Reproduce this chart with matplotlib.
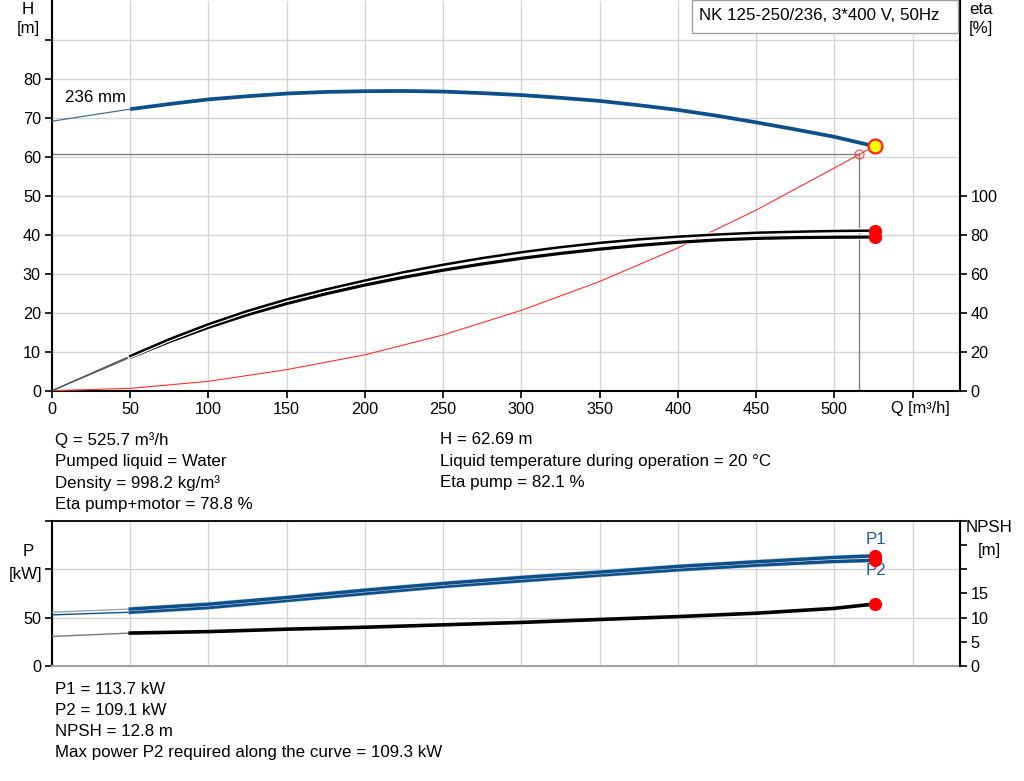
import matplotlib
matplotlib.use("Agg")
import matplotlib.pyplot as plt
import matplotlib.patheffects as pe
from matplotlib.patches import Rectangle

plt.rcParams['font.family'] = ['Liberation Sans', 'DejaVu Sans']

# ---------------- data ----------------
Q = [0, 50, 75, 100, 125, 150, 175, 200, 225, 250, 275, 300, 325, 350, 375,
     400, 425, 450, 475, 500, 525.7]
H = [69.1, 72.2, 73.5, 74.7, 75.5, 76.2, 76.6, 76.8, 76.85, 76.7, 76.3, 75.8,
     75.1, 74.3, 73.2, 72.0, 70.5, 68.8, 67.0, 65.1, 62.69]
ETA_PUMP = [0, 17.8, 26.4, 34.1, 40.9, 46.8, 51.9, 56.5, 60.8, 64.6, 68.0, 71.0,
            73.6, 75.8, 77.6, 79.0, 80.1, 81.0, 81.5, 81.9, 82.1]
ETA_TOTAL = [0, 17.1, 25.2, 32.5, 39.0, 44.7, 49.7, 54.2, 58.2, 61.8, 65.0, 67.9,
             70.4, 72.6, 74.5, 76.1, 77.3, 78.1, 78.5, 78.7, 78.8]
Q_SYS = [0, 50, 100, 150, 200, 250, 300, 350, 400, 450, 500, 516, 525.7]
H_SYS = [0, 0.6, 2.4, 5.4, 9.2, 14.3, 20.6, 28.0, 36.6, 46.3, 57.1, 60.6, 62.69]
Q_P = [0, 50, 100, 150, 200, 250, 300, 350, 400, 450, 500, 525.7]
P1 = [55.5, 58.8, 63.8, 70.7, 78.3, 85.2, 91.4, 96.9, 102.8, 107.6, 112.1, 113.7]
P2 = [52.8, 55.5, 60.3, 67.6, 74.8, 82.1, 87.9, 93.8, 99.3, 104.1, 107.9, 109.1]
NPSH = [6.1, 6.8, 7.1, 7.6, 8.0, 8.5, 9.0, 9.6, 10.2, 10.9, 11.9, 12.8]

DUTY_Q, DUTY_H = 525.7, 62.69
SYS_Q, SYS_H = 516, 60.6

X_TICKS = [0, 50, 100, 150, 200, 250, 300, 350, 400, 450, 500, 550]
H_TICKS = [0, 10, 20, 30, 40, 50, 60, 70, 80, 90]
ETA_TICKS = [0, 20, 40, 60, 80, 100]
P_TICKS = [0, 50, 100, 150]
NPSH_TICKS = [0, 5, 10, 15, 20, 25, 30]

TITLE = "NK 125-250/236, 3*400 V, 50Hz"
INFO_LEFT = ["Q = 525.7 m³/h", "Pumped liquid = Water", "Density = 998.2 kg/m³",
             "Eta pump+motor = 78.8 %"]
INFO_RIGHT = ["H = 62.69 m", "Liquid temperature during operation = 20 °C",
              "Eta pump = 82.1 %"]
INFO_BOTTOM = ["P1 = 113.7 kW", "P2 = 109.1 kW", "NPSH = 12.8 m",
               "Max power P2 required along the curve = 109.3 kW"]

# ---------------- styling ----------------
W, Hpx = 1024, 781
FS = 12.2
TFS = 11.7
BLUE = '#0d4f8b'
GRID = '#d4d4d4'
fig = plt.figure(figsize=(W / 100, Hpx / 100), dpi=100)

def fx(px):
    return px / W

def fy(py):
    return 1 - py / Hpx

XL, XR = 52, 959.5
XMAX = 580

# ---------------- top axes ----------------
ax = fig.add_axes([fx(XL), fy(390.7), fx(XR - XL), fy(0.7) - fy(390.7)])
ax.set_xlim(0, XMAX)
ax.set_ylim(0, 100)
ax.set_xticks(X_TICKS)
ax.set_xticklabels([str(v) for v in X_TICKS[:-1]] + [''])
ax.set_yticks(H_TICKS)
ax.set_yticklabels([str(v) if v <= 80 else '' for v in H_TICKS])
ax.grid(True, color=GRID, lw=1)
ax.set_axisbelow(True)
for s in ['left', 'bottom', 'right']:
    ax.spines[s].set_linewidth(1.5)
ax.spines['top'].set_visible(False)
ax.tick_params(direction='out', length=5, width=1.2, labelsize=TFS, pad=3)
ax.text(555, -0.045, "Q [m³/h]", transform=ax.get_xaxis_transform(),
        ha='center', va='center', fontsize=TFS)

# operating lines
ax.plot([0, SYS_Q], [SYS_H, SYS_H], color='#808080', lw=1, zorder=2)
ax.plot([SYS_Q, SYS_Q], [0, SYS_H], color='#808080', lw=1, zorder=2)

# system curve
ax.plot(Q_SYS, H_SYS, color='#ff3030', lw=0.8, zorder=3)

# H curve
ax.plot(Q[:2], H[:2], color='#4a6d94', lw=0.9, zorder=4)
ax.plot(Q[1:], H[1:], color=BLUE, lw=2.7, zorder=4, solid_capstyle='butt')
ax.text(8.5, 75.3, "236 mm", fontsize=FS, ha='left', va='center')

# eta axis
ax2 = ax.twinx()
ax2.set_ylim(0, 200)
ax2.set_yticks(ETA_TICKS)
ax2.tick_params(direction='out', length=5, width=1.2, labelsize=TFS, pad=3)
for s in ax2.spines.values():
    s.set_visible(False)
ax2.spines['right'].set_visible(True)
ax2.spines['right'].set_linewidth(1.5)

halo = [pe.Stroke(linewidth=3.6, foreground='white'), pe.Normal()]
ax2.plot(Q[:2], ETA_TOTAL[:2], color='#555555', lw=0.9, zorder=3)
ax2.plot(Q[:2], ETA_PUMP[:2], color='#555555', lw=0.9, zorder=3)
ax2.plot(Q[1:], ETA_TOTAL[1:], color='black', lw=2.3, zorder=3, path_effects=halo)
ax2.plot(Q[1:], ETA_PUMP[1:], color='black', lw=1.8, zorder=3, path_effects=halo)
ax2.plot([Q[-1]], [ETA_PUMP[-1]], 'o', color='red', ms=8.5, zorder=5)
ax2.plot([Q[-1]], [ETA_TOTAL[-1]], 'o', color='red', ms=8.5, zorder=5)

# markers on H scale drawn on ax2 coordinates (scale factor 2)
ax2.plot([SYS_Q], [SYS_H * 2], 'o', mfc='none', mec='#ff4040', ms=6.5, mew=0.8, zorder=6)
ax2.plot([DUTY_Q], [DUTY_H * 2], 'o', mfc='#ffff00', mec='#ff2020', ms=10, mew=1.6, zorder=6)

# ---------------- bottom axes ----------------
bx = fig.add_axes([fx(XL), fy(666), fx(XR - XL), fy(520.7) - fy(666)])
bx.set_xlim(0, XMAX)
bx.set_ylim(0, 150)
bx.set_xticks(X_TICKS)
bx.set_xticklabels([])
bx.tick_params(axis='x', length=0)
bx.set_yticks(P_TICKS)
bx.set_yticklabels(['0', '50', '', ''])
bx.tick_params(axis='y', direction='out', length=5, width=1.2, labelsize=TFS, pad=3)
bx.grid(True, color=GRID, lw=1)
bx.set_axisbelow(True)
bx.spines['bottom'].set_color('#a0a0a0')
bx.spines['bottom'].set_linewidth(1.5)
bx.spines['top'].set_linewidth(1.3)
bx.spines['left'].set_linewidth(1.5)
bx.spines['right'].set_linewidth(1.5)

phalo = [pe.Stroke(linewidth=3.2, foreground='#c8d2dc'), pe.Normal()]
bx.plot(Q_P[:2], P1[:2], color='#9aa8b8', lw=1.0, zorder=3)
bx.plot(Q_P[:2], P2[:2], color=BLUE, lw=1.0, zorder=3)
bx.plot(Q_P[1:], P2[1:], color=BLUE, lw=2.4, zorder=3, path_effects=phalo)
bx.plot(Q_P[1:], P1[1:], color=BLUE, lw=2.4, zorder=3, path_effects=phalo)
bx.plot([Q_P[-1]], [P1[-1]], 'o', color='red', ms=8.5, zorder=5)
bx.plot([Q_P[-1]], [P2[-1]], 'o', color='red', ms=8.5, zorder=5)
bx.text(526.5, 131, "P1", color='#1f5f99', fontsize=FS, ha='center', va='center')
bx.text(526.5, 99, "P2", color='#1f5f99', fontsize=FS, ha='center', va='center')

bx2 = bx.twinx()
bx2.set_ylim(0, 30)
bx2.set_yticks(NPSH_TICKS)
bx2.set_yticklabels([str(v) if v <= 15 else '' for v in NPSH_TICKS])
bx2.tick_params(direction='out', length=5, width=1.2, labelsize=TFS, pad=3)
for s in bx2.spines.values():
    s.set_visible(False)
bx2.spines['right'].set_visible(True)
bx2.spines['right'].set_linewidth(1.5)
bx2.plot(Q_P[:2], NPSH[:2], color='#777777', lw=1.0, zorder=3)
bx2.plot(Q_P[1:], NPSH[1:], color='black', lw=2.6, zorder=3)
bx2.plot([Q_P[-1]], [NPSH[-1]], 'o', color='red', ms=8.5, zorder=5)

# ---------------- axis labels / texts ----------------
fig.text(fx(28), fy(10), "H", fontsize=FS, ha='center', va='center')
fig.text(fx(28), fy(28), "[m]", fontsize=FS, ha='center', va='center')
fig.text(fx(981), fy(10), "eta", fontsize=FS, ha='center', va='center')
fig.text(fx(981), fy(29), "[%]", fontsize=FS, ha='center', va='center')
fig.text(fx(28), fy(552), "P", fontsize=FS, ha='center', va='center')
fig.text(fx(26), fy(575), "[kW]", fontsize=FS, ha='center', va='center')
fig.text(fx(989), fy(528), "NPSH", fontsize=FS, ha='center', va='center')
fig.text(fx(989), fy(550), "[m]", fontsize=FS, ha='center', va='center')

# title box
fig.add_artist(Rectangle((fx(692), fy(33)), fx(958 - 692), fy(0) - fy(33),
                         transform=fig.transFigure, facecolor='white',
                         edgecolor='#a0a0a0', lw=1, zorder=10))
t = fig.text(fx(699), fy(15), TITLE, fontsize=FS, ha='left', va='center')
t.set_zorder(11)

for i, s in enumerate(INFO_LEFT):
    fig.text(fx(55), fy(440 + i * 21.5), s, fontsize=FS, ha='left', va='center')
for i, s in enumerate(INFO_RIGHT):
    fig.text(fx(440), fy(440 + i * 21.5), s, fontsize=FS, ha='left', va='center')
for i, s in enumerate(INFO_BOTTOM):
    fig.text(fx(55), fy(689 + i * 21.3), s, fontsize=FS, ha='left', va='center')

fig.savefig("out.png", dpi=100)
